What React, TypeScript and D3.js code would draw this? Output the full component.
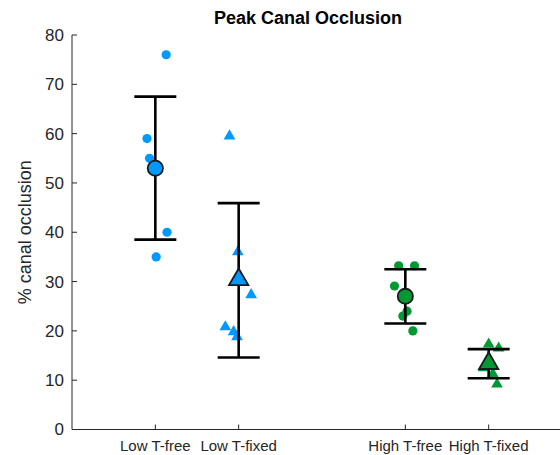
import React, { useEffect, useRef } from 'react';
import * as d3 from 'd3';

// groups along the x axis (MATLAB-style positions 1,2,4,5)
const categories = ['Low T-free', 'Low T-fixed', 'High T-free', 'High T-fixed'];
const positions = [1, 2, 4, 5];
const groupColor = ['#0099ff', '#0099ff', '#009933', '#009933'];
const groupShape = ['circle', 'triangle', 'circle', 'triangle'];

// individual samples (value, horizontal jitter in x units)
const lowFree = [76, 59, 55, 40, 35];
const lowFreeJitter = [0.13, -0.1, -0.07, 0.14, 0.01];
const lowFixed = [59.5, 36, 27.3, 20.8, 19.8, 18.8];
const lowFixedJitter = [-0.11, -0.01, 0.15, -0.16, -0.06, -0.02];
const highFree = [33.2, 33.2, 29.1, 24, 23, 20];
const highFreeJitter = [-0.08, 0.11, -0.13, 0.02, -0.03, 0.09];
const highFixed = [17.3, 16.5, 12.5, 11.3, 9.2];
const highFixedJitter = [0.0, 0.12, -0.06, 0.05, 0.1];

// group summary
const means = [53, 30.4, 27, 13.4];
const errLow = [38.5, 14.6, 21.5, 10.4];
const errHigh = [67.5, 45.9, 32.5, 16.3];

const yTicks = [0, 10, 20, 30, 40, 50, 60, 70, 80];

const App = () => {
  const svgRef = useRef(null);
  const width = 560;
  const height = 455;

  useEffect(() => {
    document.body.style.margin = '0';
    const svg = d3.select(svgRef.current);
    svg.selectAll('*').remove();

    const font = 'Liberation Sans, Arial, Helvetica, sans-serif';
    const axisColor = '#262626';

    const x = d3.scaleLinear().domain([0, 6]).range([72, 572]);
    const y = d3.scaleLinear().domain([0, 80]).range([429.5, 35]);

    // axes lines
    svg.append('line')
      .attr('x1', x(0)).attr('x2', x(6))
      .attr('y1', y(0)).attr('y2', y(0))
      .attr('stroke', axisColor).attr('stroke-width', 1);
    svg.append('line')
      .attr('x1', x(0)).attr('x2', x(0))
      .attr('y1', y(0)).attr('y2', y(80))
      .attr('stroke', axisColor).attr('stroke-width', 1);

    // y ticks (inside)
    yTicks.forEach(t => {
      svg.append('line')
        .attr('x1', x(0)).attr('x2', x(0) + 5)
        .attr('y1', y(t)).attr('y2', y(t))
        .attr('stroke', axisColor);
      svg.append('text')
        .attr('x', x(0) - 8)
        .attr('y', y(t))
        .attr('dy', '0.35em')
        .attr('text-anchor', 'end')
        .attr('font-family', font)
        .attr('font-size', '17px')
        .attr('fill', axisColor)
        .text(t);
    });

    // x ticks
    positions.forEach((p, i) => {
      svg.append('line')
        .attr('x1', x(p)).attr('x2', x(p))
        .attr('y1', y(0)).attr('y2', y(0) - 5)
        .attr('stroke', axisColor);
      svg.append('text')
        .attr('x', x(p))
        .attr('y', 451)
        .attr('text-anchor', 'middle')
        .attr('font-family', font)
        .attr('font-size', '15px')
        .attr('fill', axisColor)
        .text(categories[i]);
    });

    // title
    svg.append('text')
      .attr('x', 308)
      .attr('y', 24)
      .attr('text-anchor', 'middle')
      .attr('font-family', font)
      .attr('font-weight', 'bold')
      .attr('font-size', '18px')
      .attr('fill', '#000')
      .text('Peak Canal Occlusion');

    // y label
    svg.append('text')
      .attr('transform', `translate(31, ${(y(0) + y(80)) / 2}) rotate(-90)`)
      .attr('text-anchor', 'middle')
      .attr('font-family', font)
      .attr('font-size', '18px')
      .attr('fill', axisColor)
      .text('% canal occlusion');

    const tri = d3.symbol().type(d3.symbolTriangle);

    const drawMarker = (g, shape, cx, cy, size, fill, stroke) => {
      if (shape === 'circle') {
        g.append('circle')
          .attr('cx', cx).attr('cy', cy).attr('r', size)
          .attr('fill', fill)
          .attr('stroke', stroke || 'none')
          .attr('stroke-width', stroke ? 1.8 : 0);
      } else {
        g.append('path')
          .attr('d', tri.size(size * size * 2.8)())
          .attr('transform', `translate(${cx},${cy})`)
          .attr('fill', fill)
          .attr('stroke', stroke || 'none')
          .attr('stroke-width', stroke ? 1.8 : 0);
      }
    };

    const samples = [lowFree, lowFixed, highFree, highFixed];
    const jitters = [lowFreeJitter, lowFixedJitter, highFreeJitter, highFixedJitter];

    // raw points
    samples.forEach((vals, i) => {
      vals.forEach((v, j) => {
        drawMarker(svg, groupShape[i], x(positions[i] + jitters[i][j]), y(v), 4.6, groupColor[i], null);
      });
    });

    // error bars + means
    positions.forEach((p, i) => {
      const cx = x(p);
      const g = svg.append('g');
      g.append('line')
        .attr('x1', cx).attr('x2', cx)
        .attr('y1', y(errLow[i])).attr('y2', y(errHigh[i]))
        .attr('stroke', '#000').attr('stroke-width', 2.6);
      [errLow[i], errHigh[i]].forEach(e => {
        g.append('line')
          .attr('x1', cx - 21).attr('x2', cx + 21)
          .attr('y1', y(e)).attr('y2', y(e))
          .attr('stroke', '#000').attr('stroke-width', 2.6);
      });
      drawMarker(g, groupShape[i], cx, y(means[i]), 7.6, groupColor[i], '#1a1a1a');
    });
  }, []);

  return (
    <div style={{ width: width + 'px', height: height + 'px', background: '#fff' }}>
      <svg ref={svgRef} width={width} height={height}></svg>
    </div>
  );
};

export default App;
